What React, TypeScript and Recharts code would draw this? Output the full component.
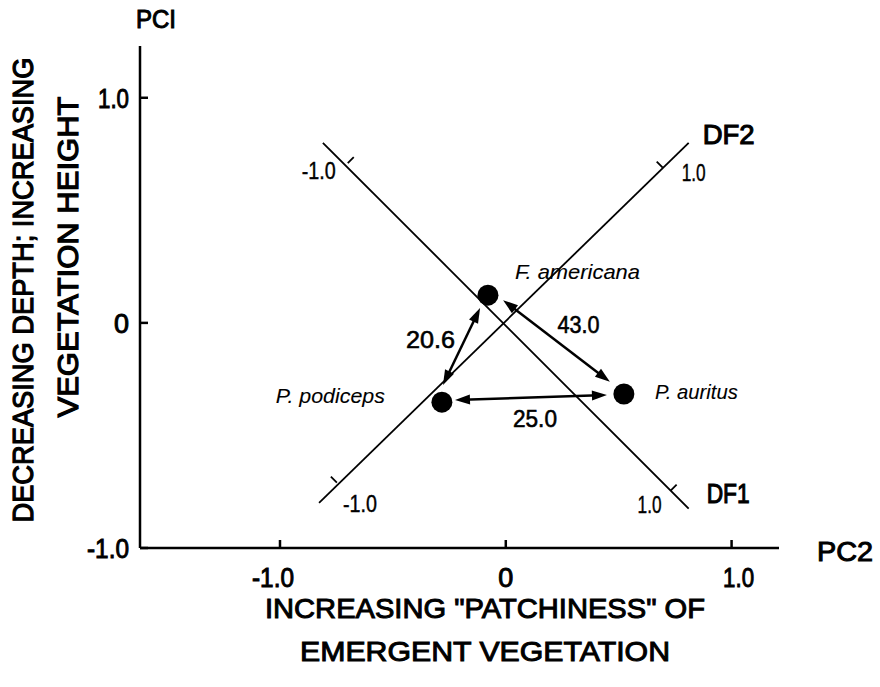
import { ScatterChart, Scatter, XAxis, YAxis, ReferenceLine } from 'recharts'

// PCA scores of the three grebes (PC2 across, PC1 up)
const species = ['F. americana', 'P. podiceps', 'P. auritus']
const pc2Scores = [-0.079, -0.283, 0.523]
const pc1Scores = [0.123, -0.352, -0.316]

const pcTicks = [-1, 0, 1]

// discriminant function axes laid over PC space
const df1Ends = [{ x: -0.81, y: 0.8 }, { x: 0.81, y: -0.825 }]
const df2Ends = [{ x: -0.827, y: -0.8 }, { x: 0.81, y: 0.8 }]
const dfTickLabels = ['-1.0', '1.0']
const df1TickPts = [{ x: -0.7, y: 0.71 }, { x: 0.73, y: -0.745 }]
const df2TickPts = [{ x: -0.748, y: -0.71 }, { x: 0.695, y: 0.69 }]

// distances between species
const distLabels = ['20.6', '43.0', '25.0']
const distFrom = [{ x: -0.278, y: -0.276 }, { x: -0.012, y: 0.101 }, { x: -0.225, y: -0.343 }]
const distTo = [{ x: -0.114, y: 0.066 }, { x: 0.461, y: -0.262 }, { x: 0.448, y: -0.32 }]

const FONT = "'Liberation Sans', Arial, sans-serif"

const fmtTick = (v: number) => (v === 0 ? '0' : (v < 0 ? '-' : '') + Math.abs(v).toFixed(1))
const tickW: Record<string, number> = { '-1.0': 42, '0': 15, '1.0': 31 }

const T = ({ x, y, w, size, anchor = 'middle', italic = false, rotate = false, weight = 1, children }: any) => (
  <text
    x={x}
    y={y}
    fontSize={size}
    fontFamily={FONT}
    textAnchor={anchor}
    fontStyle={italic ? 'italic' : 'normal'}
    textLength={w}
    lengthAdjust="spacingAndGlyphs"
    fill="#000"
    stroke="#000"
    strokeWidth={weight}
    transform={rotate ? `rotate(-90 ${x} ${y})` : undefined}
  >
    {children}
  </text>
)

const XTick = ({ x, y, payload }: any) => {
  const s = fmtTick(payload.value)
  const shift = s === '-1.0' ? -7 : s === '1.0' ? 7 : 0
  return (
    <g>
      <line x1={x} y1={y} x2={x} y2={y - 8} stroke="#000" strokeWidth={2.5} />
      <T x={x + shift} y={y + 39} size={28} w={tickW[s]}>{s}</T>
    </g>
  )
}

const YTick = ({ x, y, payload }: any) => {
  const s = fmtTick(payload.value)
  return (
    <g>
      <line x1={x} y1={y} x2={x + 8} y2={y} stroke="#000" strokeWidth={2.5} />
      <T x={x - 11} y={y + 10} size={28} w={tickW[s]} anchor="end">{s}</T>
    </g>
  )
}

const YTitle = () => (
  <g>
    <T x={33} y={290} size={29} w={465} rotate weight={1.2}>DECREASING DEPTH; INCREASING</T>
    <T x={78} y={257} size={29} w={321} rotate weight={1.2}>VEGETATION HEIGHT</T>
    <T x={136} y={28} size={25} w={40} anchor="start">PCI</T>
  </g>
)

const XTitle = () => (
  <g>
    <T x={485} y={618} size={28} w={440}>INCREASING "PATCHINESS" OF</T>
    <T x={485} y={661} size={28} w={370}>EMERGENT VEGETATION</T>
    <T x={817} y={561} size={27} w={56} anchor="start">PC2</T>
  </g>
)

const speciesLabel: Record<string, { dx: number; dy: number; anchor: string; w: number }> = {
  'F. americana': { dx: 27, dy: -16, anchor: 'start', w: 125 },
  'P. podiceps': { dx: -57, dy: 1, anchor: 'end', w: 109 },
  'P. auritus': { dx: 31, dy: 5, anchor: 'start', w: 83 },
}

const SpeciesDot = ({ cx, cy, payload }: any) => {
  const o = speciesLabel[payload.name]
  return (
    <g>
      <circle cx={cx} cy={cy} r={10.5} fill="#000" />
      <T x={cx + o.dx} y={cy + o.dy} size={21} w={o.w} anchor={o.anchor} italic weight={0.1}>
        {payload.name}
      </T>
    </g>
  )
}

// offsets of the DF tick labels from the tick foot
const df1LabelOff = [{ dx: -29, dy: 16 }, { dx: -21, dy: 22 }]
const df2LabelOff = [{ dx: 23, dy: 29 }, { dx: 31, dy: 13 }]
const dfLabelW: Record<string, number> = { '-1.0': 34, '1.0': 24 }

const dfTick = (dir: number, offs: { dx: number; dy: number }[]) => (p: any) => {
  const { cx, cy, payload } = p
  const o = offs[payload.i]
  return (
    <g>
      <line x1={cx} y1={cy} x2={cx + dir * 6} y2={cy - 6} stroke="#000" strokeWidth={1.8} />
      <T x={cx + o.dx} y={cy + o.dy} size={23} w={dfLabelW[payload.label]} weight={0.4}>
        {payload.label}
      </T>
    </g>
  )
}

const dfLine = (name: string, dx: number, dy: number, w: number) => (p: any) => (
  <g>
    <line x1={p.x1} y1={p.y1} x2={p.x2} y2={p.y2} stroke="#000" strokeWidth={1.8} />
    <T x={p.x2 + dx} y={p.y2 + dy} size={28} w={w} anchor="start" weight={1.1}>{name}</T>
  </g>
)

const distLabelOff = [{ dx: -31, dy: 1 }, { dx: 22, dy: -8 }, { dx: 4, dy: 29 }]
const distW = [49, 42, 44]

const arrow = (i: number) => (p: any) => {
  const { x1, y1, x2, y2 } = p
  const dx = x2 - x1
  const dy = y2 - y1
  const len = Math.hypot(dx, dy)
  const ux = dx / len
  const uy = dy / len
  const head = (hx: number, hy: number, d: number) => {
    const bx = hx - d * ux * 15
    const by = hy - d * uy * 15
    return `${hx},${hy} ${bx - uy * 5},${by + ux * 5} ${bx + uy * 5},${by - ux * 5}`
  }
  const o = distLabelOff[i]
  return (
    <g>
      <line x1={x1 + ux * 8} y1={y1 + uy * 8} x2={x2 - ux * 8} y2={y2 - uy * 8} stroke="#000" strokeWidth={2.5} />
      <polygon points={head(x2, y2, 1)} fill="#000" />
      <polygon points={head(x1, y1, -1)} fill="#000" />
      <T x={(x1 + x2) / 2 + o.dx} y={(y1 + y2) / 2 + o.dy} size={24} w={distW[i]} weight={0.6}>
        {distLabels[i]}
      </T>
    </g>
  )
}

export default function App() {
  const speciesData = species.map((name, i) => ({ name, x: pc2Scores[i], y: pc1Scores[i] }))
  const df1Ticks = df1TickPts.map((pt, i) => ({ ...pt, i, label: dfTickLabels[i] }))
  const df2Ticks = df2TickPts.map((pt, i) => ({ ...pt, i, label: dfTickLabels[i] }))

  return (
    <div style={{ position: 'absolute', left: 0, top: 0, width: 880, height: 687, background: '#fff' }}>
      <ScatterChart width={880} height={687} margin={{ top: 46, right: 101, bottom: 0, left: 0 }}>
        <XAxis
          type="number"
          dataKey="x"
          domain={[-1.62, 1.21]}
          ticks={pcTicks}
          interval={0}
          allowDataOverflow
          height={139}
          axisLine={{ stroke: '#000', strokeWidth: 2.5 }}
          tickLine={false}
          tickSize={0}
          tickMargin={0}
          tick={<XTick />}
          label={<XTitle />}
        />
        <YAxis
          type="number"
          dataKey="y"
          domain={[-1, 1.23]}
          ticks={pcTicks}
          interval={0}
          allowDataOverflow
          width={140}
          axisLine={{ stroke: '#000', strokeWidth: 2.5 }}
          tickLine={false}
          tickSize={0}
          tickMargin={0}
          tick={<YTick />}
          label={<YTitle />}
        />
        <ReferenceLine segment={df1Ends} shape={dfLine('DF1', 18, -6, 43)} />
        <ReferenceLine segment={df2Ends} shape={dfLine('DF2', 14, 1, 52)} />
        {distLabels.map((_, i) => (
          <ReferenceLine key={i} segment={[distFrom[i], distTo[i]]} shape={arrow(i)} />
        ))}
        <Scatter data={df1Ticks} shape={dfTick(1, df1LabelOff)} isAnimationActive={false} />
        <Scatter data={df2Ticks} shape={dfTick(-1, df2LabelOff)} isAnimationActive={false} />
        <Scatter data={speciesData} shape={SpeciesDot} isAnimationActive={false} />
      </ScatterChart>
    </div>
  )
}
